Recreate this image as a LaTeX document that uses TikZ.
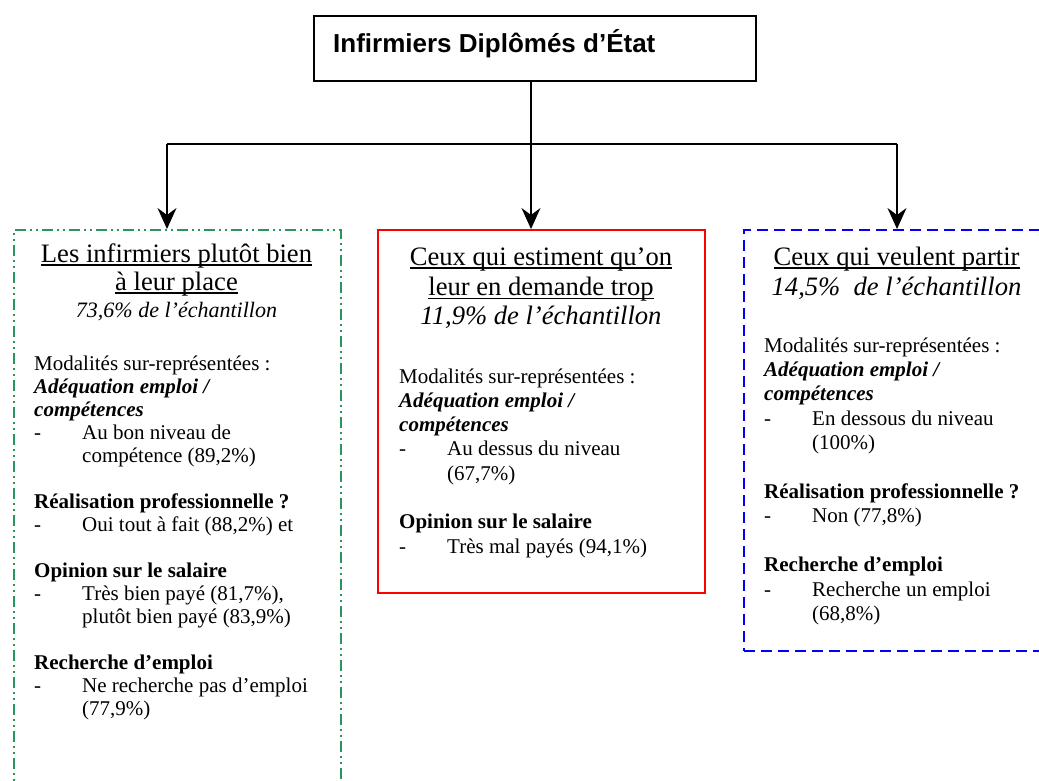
\documentclass[tikz,border=0pt]{standalone}
\usepackage{fontspec}
\setmainfont{Liberation Serif}
\newfontfamily\arialfont{Liberation Sans}
\usetikzlibrary{arrows.meta}
\definecolor{boxgreen}{RGB}{40,150,90}
\definecolor{boxred}{RGB}{255,0,0}
\definecolor{boxblue}{RGB}{0,0,255}
\newsavebox{\ulxbox}
\newcommand{\ulx}[1]{\sbox{\ulxbox}{#1}\rlap{\rule[-3.6pt]{\wd\ulxbox}{1.2pt}}\usebox{\ulxbox}}
\newcommand{\itm}[1]{\makebox[48pt][l]{-}#1}
\newcommand{\cont}[1]{\hspace*{48pt}#1}
\begin{document}
\begin{tikzpicture}[x=1pt,y=-1pt,
  framebox/.style={draw, line width=1.5pt, inner sep=0pt, anchor=north west},
  greenbox/.style={framebox, draw=boxgreen, dash pattern=on 11pt off 4pt on 2pt off 4pt on 2pt off 4pt},
  redbox/.style={framebox, draw=boxred},
  bluebox/.style={framebox, draw=boxblue, line width=2pt, dash pattern=on 11pt off 6pt},
  conn/.style={draw=black, line width=1.5pt},
  arr/.style={conn, -{Stealth[length=21pt,width=19pt,inset=7pt]}},
  titletext/.style={anchor=base, inner sep=0pt},
  bodytext/.style={anchor=base west, inner sep=0pt}
]
\useasboundingbox (0,0) rectangle (1039,780);
\clip (0,0) rectangle (1039,780);

% top box
\node[framebox, minimum width=442pt, minimum height=65pt] (top) at (313,15) {};
\node[anchor=base west, inner sep=0pt] (toptext) at (333,52)
  {\arialfont\bfseries\fontsize{26}{30}\selectfont Infirmiers Diplômés d’État};

% three boxes
\node[greenbox, minimum width=327pt, minimum height=600pt] (g) at (13,229) {};
\node[redbox, minimum width=327pt, minimum height=363pt] (m) at (377,229) {};
\node[bluebox, minimum width=320pt, minimum height=421pt] (b) at (743,229) {};

% connectors
\coordinate (j) at (531,144);
\coordinate (hl) at (167,144);
\coordinate (hr) at (897,144);
\draw[conn] (j |- top.south) -- (j);
\draw[conn] (hl) -- (hr);
\draw[arr] (hl) -- (hl |- g.north);
\draw[arr] (j) -- (j |- m.north);
\draw[arr] (hr) -- (hr |- b.north);

% titles
\node[titletext] (gt) at (176.5,262) {\fontsize{26.6}{28}\selectfont
  \begin{tabular}[t]{@{}c@{}}
  \ulx{Les infirmiers plutôt bien}\\
  \ulx{à leur place}\\[-1pt]
  {\fontsize{22}{27}\selectfont\itshape 73,6\% de l’échantillon}
  \end{tabular}};
\node[titletext] (mt) at (541,265) {\fontsize{26.6}{30.5}\selectfont
  \begin{tabular}[t]{@{}c@{}}
  \ulx{Ceux qui estiment qu’on}\\
  \ulx{leur en demande trop}\\[-1.5pt]
  {\itshape 11,9\% de l’échantillon}
  \end{tabular}};
\node[titletext] (bt) at (896.5,265) {\fontsize{26.6}{30}\selectfont
  \begin{tabular}[t]{@{}c@{}}
  \ulx{Ceux qui veulent partir}\\
  {\itshape 14,5\%\ \ de l’échantillon}
  \end{tabular}};

% bodies
\node[bodytext] (gb) at (34,370) {\fontsize{21}{23}\selectfont
  \begin{tabular}[t]{@{}l@{}}
  Modalités sur-représentées :\\
  {\bfseries\itshape Adéquation emploi /}\\
  {\bfseries\itshape compétences}\\
  \itm{Au bon niveau de}\\
  \cont{compétence (89,2\%)}\\
  \\
  {\bfseries Réalisation professionnelle ?}\\
  \itm{Oui tout à fait (88,2\%) et}\\
  \\
  {\bfseries Opinion sur le salaire}\\
  \itm{Très bien payé (81,7\%),}\\
  \cont{plutôt bien payé (83,9\%)}\\
  \\
  {\bfseries Recherche d’emploi}\\
  \itm{Ne recherche pas d’emploi}\\
  \cont{(77,9\%)}
  \end{tabular}};
\node[bodytext] (mb) at (399,383) {\fontsize{21}{24.3}\selectfont
  \begin{tabular}[t]{@{}l@{}}
  Modalités sur-représentées :\\
  {\bfseries\itshape Adéquation emploi /}\\
  {\bfseries\itshape compétences}\\
  \itm{Au dessus du niveau}\\
  \cont{(67,7\%)}\\
  \\
  {\bfseries Opinion sur le salaire}\\
  \itm{Très mal payés (94,1\%)}
  \end{tabular}};
\node[bodytext] (bb) at (764,352) {\fontsize{21}{24.4}\selectfont
  \begin{tabular}[t]{@{}l@{}}
  Modalités sur-représentées :\\
  {\bfseries\itshape Adéquation emploi /}\\
  {\bfseries\itshape compétences}\\
  \itm{En dessous du niveau}\\
  \cont{(100\%)}\\
  \\
  {\bfseries Réalisation professionnelle ?}\\
  \itm{Non (77,8\%)}\\
  \\
  {\bfseries Recherche d’emploi}\\
  \itm{Recherche un emploi}\\
  \cont{(68,8\%)}
  \end{tabular}};
\end{tikzpicture}
\end{document}
